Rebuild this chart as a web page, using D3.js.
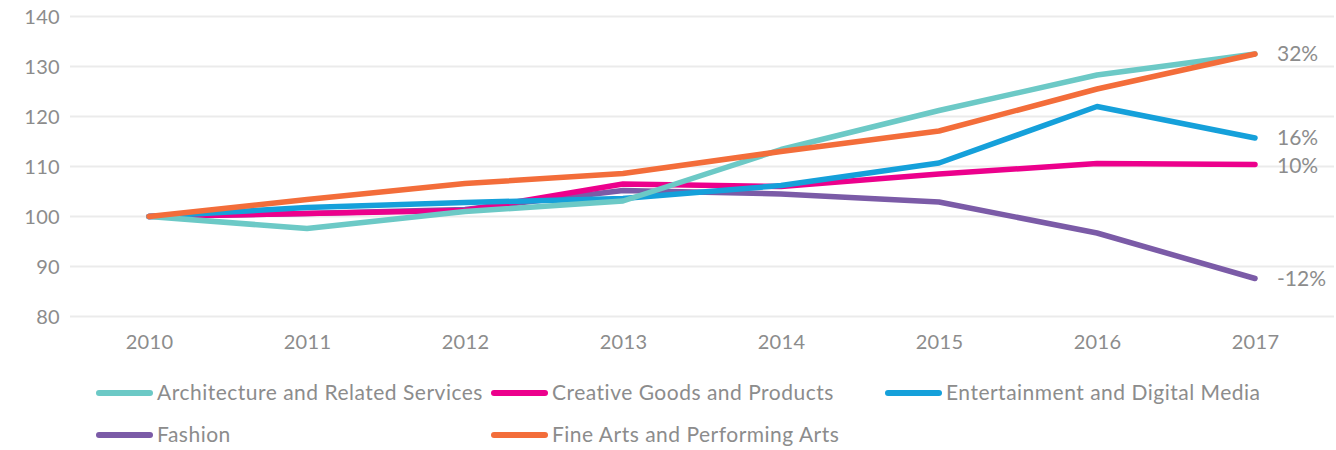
<!DOCTYPE html>
<html><head><meta charset="utf-8">
<script src="https://cdn.jsdelivr.net/npm/d3@7"></script>
<style>body{margin:0;background:#fff}svg{display:block}text{font-family:Lato,"Open Sans",sans-serif;fill:#8c8c8c}</style>
</head><body>
<script>
const years = ["2010","2011","2012","2013","2014","2015","2016","2017"];
const yTicks = [80,90,100,110,120,130,140];
const seriesNames = ["Architecture and Related Services","Creative Goods and Products","Entertainment and Digital Media","Fashion","Fine Arts and Performing Arts"];
const architecture = [100,97.6,101,103.1,113.4,121.2,128.3,132.5];
const creative = [100,100.6,101.2,106.5,106,108.5,110.6,110.4];
const entertainment = [100,101.8,102.8,103.6,106.2,110.7,122,115.7];
const fashion = [100,100.6,101.4,105.2,104.5,102.9,96.7,87.6];
const fineArts = [100,103.4,106.6,108.6,113,117.1,125.5,132.5];
const endLabels = ["32%","10%","16%","-12%",null];
const colors = ["#6cc9c6","#ec008c","#15a0da","#7b5ba7","#f36d3a"];

const data = [architecture, creative, entertainment, fashion, fineArts];
const W=1336,H=450;
const svg=d3.select("body").append("svg").attr("width",W).attr("height",H);
const x=d3.scalePoint().domain(years).range([70,1334]).padding(0.5);
const y=d3.scaleLinear().domain([80,140]).range([316.5,16.5]);

// grid
svg.append("g").selectAll("line").data(yTicks).join("line")
 .attr("x1",70).attr("x2",1334).attr("y1",d=>y(d)).attr("y2",d=>y(d))
 .attr("stroke","#ebebeb").attr("stroke-width",2);

const yAxis=svg.append("g").attr("transform","translate(60,0)")
 .call(d3.axisLeft(y).tickValues(yTicks).tickSize(0).tickPadding(0));
yAxis.select(".domain").remove();
yAxis.selectAll("text").attr("font-size",20).attr("fill","#8c8c8c").attr("dy","0.35em").style("font-family","Lato").style("letter-spacing","0.3px");

const xAxis=svg.append("g").attr("transform","translate(0,330)")
 .call(d3.axisBottom(x).tickSize(0).tickPadding(0));
xAxis.select(".domain").remove();
xAxis.selectAll("text").attr("font-size",20).attr("fill","#8c8c8c").attr("dy","0.95em").style("font-family","Lato").style("letter-spacing","0.3px");

const line=d3.line().x((d,i)=>x(years[i])).y(d=>y(d));
const order=[3,1,2,0,4];
order.forEach(k=>{
 svg.append("path").datum(data[k]).attr("d",line).attr("fill","none")
  .attr("stroke",colors[k]).attr("stroke-width",5.5).attr("stroke-linecap","round").attr("stroke-linejoin","round");
});
// end labels
[0,1,2,3].forEach(k=>{
 const v=data[k][7];
 let off = k===1?1:(k===2?-0.4:0);
 svg.append("text").attr("x",x("2017")+22).attr("y",y(v)+off).attr("dy","0.35em")
  .attr("font-size",21).text(endLabels[k]);
});

// legend
const cols=[96,491,885], rows=[393,435];
seriesNames.forEach((n,i)=>{
 const cx=cols[i%3], cy=rows[Math.floor(i/3)];
 const g=svg.append("g");
 g.append("line").attr("x1",cx+3).attr("x2",cx+54).attr("y1",cy).attr("y2",cy)
  .attr("stroke",colors[i]).attr("stroke-width",6).attr("stroke-linecap","round");
 g.append("text").attr("x",cx+61).attr("y",cy).attr("dy","0.35em").attr("font-size",21)
  .style("letter-spacing","0.5px").text(n);
});
</script>
</body></html>
